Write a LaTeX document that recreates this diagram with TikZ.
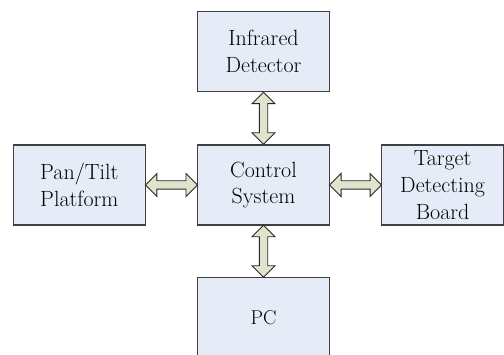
\documentclass[tikz,border=0pt]{standalone}
\usepackage{fontspec}
\usetikzlibrary{shapes.arrows}
\definecolor{boxfill}{RGB}{230,236,247}
\definecolor{boxline}{RGB}{64,64,64}
\definecolor{arrfill}{RGB}{224,228,204}
\definecolor{arrline}{RGB}{40,40,40}
\begin{document}
\begin{tikzpicture}[x=1pt,y=1pt,
  blockbox/.style={draw=boxline, fill=boxfill, line width=1.1pt, minimum width=132pt, minimum height=80pt, align=center, inner sep=0pt, font=\fontsize{22}{26.7}\selectfont},
  dbl/.style={double arrow, draw=arrline, fill=arrfill, line width=0.9pt, inner sep=3.75pt, minimum width=22pt, double arrow head extend=7.25pt, minimum height=52pt}]
\useasboundingbox (0,0) rectangle (504,354);
\node[blockbox] (ir) at (263.5,302.5) {Infrared\\Detector};
\node[blockbox] (pt) at (79.3,169) {Pan/Tilt\\Platform};
\node[blockbox] (cs) at (263.5,169) {Control\\System};
\node[blockbox, minimum width=121.8pt, font=\fontsize{22}{27}\selectfont] (td) at (442.6,169) {Target\\Detecting\\Board};
\node[blockbox, minimum height=80pt, font=\fontsize{20}{22}\selectfont] (pc) at (263.5,36.5) {PC};
\path (ir.south) -- (cs.north) node[midway, dbl, rotate=90] (a1) {};
\path (pt.east) -- (cs.west) node[midway, dbl] (a2) {};
\path (cs.east) -- (td.west) node[midway, dbl] (a3) {};
\path (cs.south) -- (pc.north) node[midway, dbl, rotate=90] (a4) {};
\end{tikzpicture}
\end{document}
